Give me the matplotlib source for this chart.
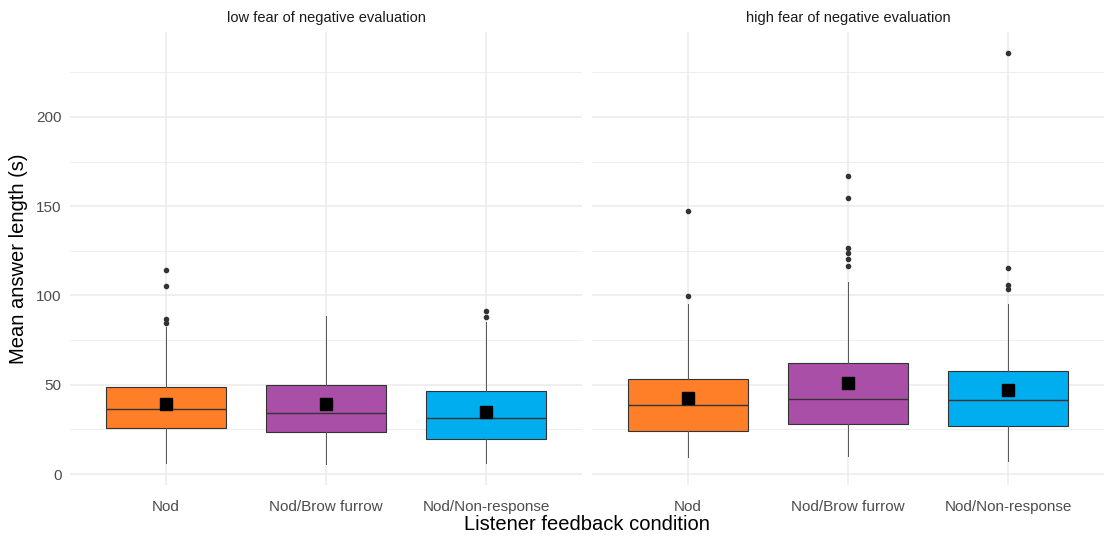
import matplotlib.pyplot as plt
from matplotlib.ticker import MultipleLocator

plt.rcParams['font.family'] = ['Liberation Sans', 'DejaVu Sans']

# data (seconds)
conditions = ['Nod', 'Nod/Brow furrow', 'Nod/Non-response']
panels = ['low fear of negative evaluation', 'high fear of negative evaluation']
colors = ['#FE7F27', '#AA4FA8', '#00AEEF']

# low fear
low_q1 = [25.6, 23.4, 19.4]
low_med = [36.2, 34.2, 31.4]
low_q3 = [48.6, 49.7, 46.5]
low_whislo = [6.3, 5.4, 6.0]
low_whishi = [82.5, 88.7, 85.3]
low_mean = [39.2, 39.0, 34.7]
low_fliers = [[114.3, 105.5, 86.8, 84.8], [], [91.3, 88.0]]

# high fear
high_q1 = [24.3, 27.8, 26.9]
high_med = [38.8, 42.2, 41.3]
high_q3 = [53.0, 62.0, 57.5]
high_whislo = [9.7, 10.3, 7.5]
high_whishi = [95.2, 107.4, 95.1]
high_mean = [42.6, 51.0, 47.2]
high_fliers = [[147.5, 99.7], [166.8, 154.4, 126.8, 123.8, 120.4, 116.3],
               [236.0, 115.6, 106.1, 103.6]]

groups = [
    (low_q1, low_med, low_q3, low_whislo, low_whishi, low_mean, low_fliers),
    (high_q1, high_med, high_q3, high_whislo, high_whishi, high_mean, high_fliers),
]

fig = plt.figure(figsize=(11.04, 5.36), dpi=100)
ax1 = fig.add_axes([70 / 1104, 51 / 536, 512 / 1104, 453 / 536])
ax2 = fig.add_axes([592 / 1104, 51 / 536, 512 / 1104, 453 / 536], sharey=ax1)

grid_col = '#EBEBEB'
for i, (ax, grp) in enumerate(zip([ax1, ax2], groups)):
    q1, med, q3, lo, hi, mn, fl = grp
    stats = []
    for k in range(3):
        stats.append(dict(q1=q1[k], med=med[k], q3=q3[k], whislo=lo[k],
                          whishi=hi[k], fliers=fl[k], label=conditions[k]))
    bp = ax.bxp(stats, positions=[1, 2, 3], widths=0.75, patch_artist=True,
                showcaps=False,
                boxprops=dict(edgecolor='#333333', linewidth=0.8),
                medianprops=dict(color='#333333', linewidth=1.0),
                whiskerprops=dict(color='#555555', linewidth=0.7),
                flierprops=dict(marker='o', markersize=3, markerfacecolor='#333333',
                                markeredgecolor='#333333'))
    for patch, c in zip(bp['boxes'], colors):
        patch.set_facecolor(c)
    ax.plot([1, 2, 3], mn, 's', color='black', markersize=8, zorder=5)

    ax.set_xlim(0.4, 3.6)
    ax.set_ylim(-6.1, 247.5)
    ax.yaxis.set_major_locator(MultipleLocator(50))
    ax.yaxis.set_minor_locator(MultipleLocator(25))
    ax.grid(True, which='major', color=grid_col, linewidth=1.1)
    ax.grid(True, which='minor', axis='y', color=grid_col, linewidth=0.6)
    ax.set_axisbelow(True)
    for s in ax.spines.values():
        s.set_visible(False)
    ax.tick_params(which='both', length=0, labelsize=11, labelcolor='#4D4D4D')
    ax.tick_params(axis='x', pad=11)
    ax.tick_params(axis='y', pad=6)
    ax.set_xticks([1, 2, 3])
    ax.set_xticklabels(conditions)
    ax.set_title(panels[i], fontsize=10.5, color='#1A1A1A', pad=7)

ax2.tick_params(axis='y', labelleft=False)
ax1.set_ylabel('Mean answer length (s)', fontsize=14.5, labelpad=6)
fig.text(587 / 1104, 11 / 536, 'Listener feedback condition', fontsize=14.5,
         ha='center', va='center')

fig.savefig('out.png', dpi=100)
